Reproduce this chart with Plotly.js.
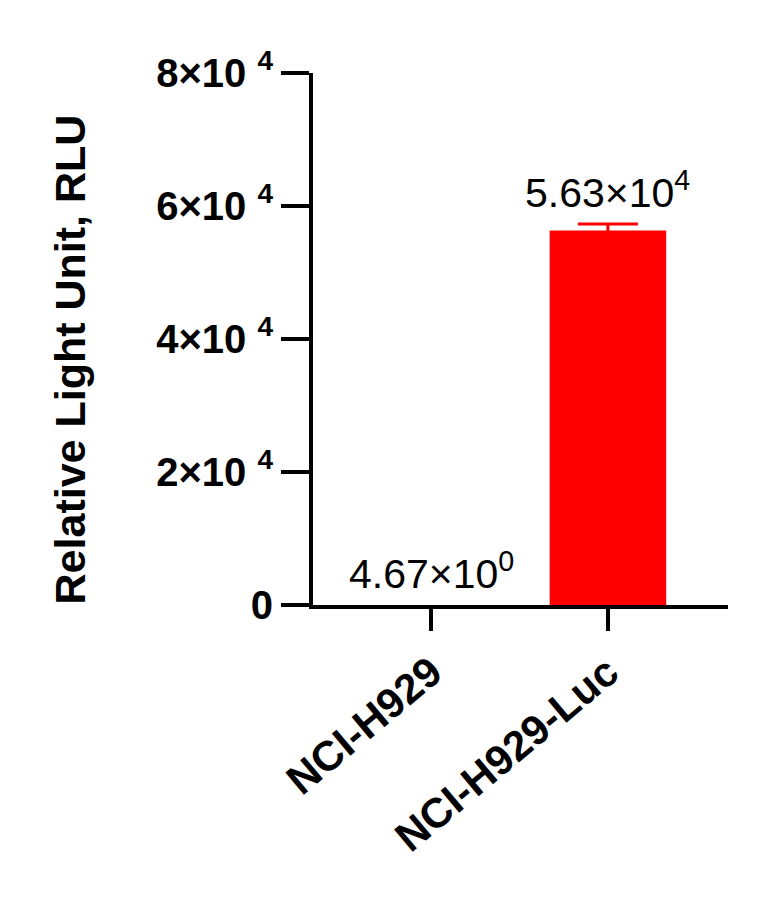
<!DOCTYPE html>
<html>
<head>
<meta charset="utf-8">
<script src="https://cdn.plot.ly/plotly-3.0.1.min.js"></script>
<style>
  html, body { margin: 0; padding: 0; background: #fff; }
  #chart { width: 772px; height: 897px; }
</style>
</head>
<body>
<div id="chart"></div>
<script>
// RLU per cell line, mean and error bar (SD)
const cellLines = ['NCI-H929', 'NCI-H929-Luc'];
const rluMean = [4.67, 56300];
const rluErr = [NaN, 1000];
const yTickVals = [0, 20000, 40000, 60000, 80000];
const yTickText = ['0', '2×10 <sup>4</sup>', '4×10 <sup>4</sup>', '6×10 <sup>4</sup>', '8×10 <sup>4</sup>'];
const yTitle = 'Relative Light Unit, RLU';

function sciLabel(v) {
    const exp = v === 0 ? 0 : Math.floor(Math.log10(Math.abs(v)));
    const mant = v / Math.pow(10, exp);
    return `${mant.toFixed(2)}×10<sup>${exp}</sup>`;
}

const font = 'Liberation Sans, Arial, sans-serif';

const trace = {
    x: cellLines, y: rluMean, type: 'bar', width: 0.66,
    marker: { color: '#ff0000' },
    error_y: { type: 'data', array: rluErr, visible: true, color: '#ff0000', thickness: 3, width: 30 },
    hoverinfo: 'skip'
};

const annotations = cellLines.map((c, i) => ({
    x: c, y: rluMean[i] + (rluErr[i] || 0), xref: 'x', yref: 'y',
    text: sciLabel(rluMean[i]), showarrow: false, yanchor: 'bottom', yshift: 6,
    font: { family: font, size: 41, color: '#000' }
}));
// y-axis title, placed as rotated text so it can sit a little below the plot centre like the original
annotations.push({
    text: yTitle, xref: 'paper', yref: 'paper', x: -0.585, y: 0.462,
    xanchor: 'center', yanchor: 'middle', textangle: -90, showarrow: false,
    font: { family: font, size: 43, weight: 'bold', color: '#000' }
});

const layout = {
    width: 772, height: 897,
    paper_bgcolor: '#fff', plot_bgcolor: '#fff',
    margin: { l: 313, r: 44, t: 73, b: 292 },
    showlegend: false,
    font: { family: font, color: '#000' },
    xaxis: {
        type: 'category', range: [-0.67, 1.68],
        showline: true, linecolor: '#000', linewidth: 4,
        ticks: 'outside', ticklen: 22, tickwidth: 4, tickcolor: '#000',
        tickangle: -40, showgrid: false, zeroline: false,
        tickfont: { family: font, size: 42, weight: 'bold', color: '#000' }
    },
    yaxis: {
        range: [0, 80000], tickvals: yTickVals, ticktext: yTickText,
        showline: true, linecolor: '#000', linewidth: 4,
        ticks: 'outside', ticklen: 28, tickwidth: 4, tickcolor: '#000',
        showgrid: false, zeroline: false,
        tickfont: { family: font, size: 40, weight: 'bold', color: '#000' }
    },
    annotations: annotations
};

Plotly.newPlot('chart', [trace], layout, { displayModeBar: false, staticPlot: true });
</script>
</body>
</html>
